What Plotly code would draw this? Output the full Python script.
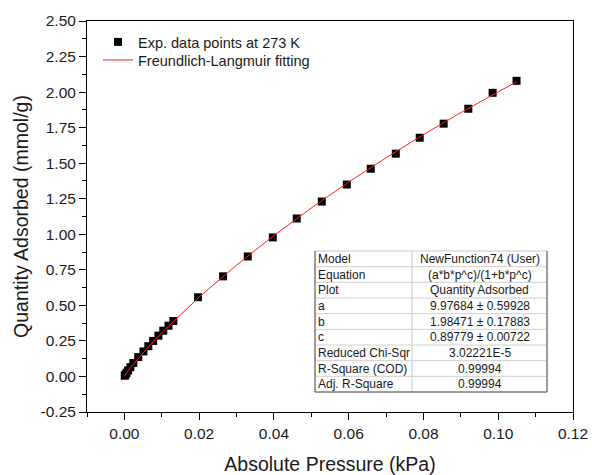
import plotly.graph_objects as go

# ---- data ----
pressure = [0.0001, 0.0003, 0.0006, 0.0010, 0.0016, 0.0024, 0.0037, 0.0051, 0.0064,
            0.0077, 0.0091, 0.0104, 0.0118, 0.0131, 0.0197, 0.0264, 0.0330, 0.0397,
            0.0461, 0.0528, 0.0595, 0.0659, 0.0726, 0.0790, 0.0854, 0.0920, 0.0985, 0.1049]
quantity = [0.005, 0.014, 0.026, 0.042, 0.065, 0.095, 0.136, 0.176, 0.213,
            0.250, 0.287, 0.322, 0.357, 0.390, 0.557, 0.704, 0.844, 0.978,
            1.111, 1.230, 1.350, 1.461, 1.567, 1.679, 1.778, 1.883, 1.995, 2.079]

fit_p = [0.0, 0.0005, 0.001, 0.002, 0.004, 0.007, 0.010, 0.015, 0.020, 0.030, 0.040,
         0.050, 0.060, 0.070, 0.080, 0.090, 0.100, 0.105]
fit_q = [0.0, 0.022, 0.040, 0.074, 0.137, 0.225, 0.308, 0.436, 0.558, 0.783, 0.991,
         1.185, 1.367, 1.538, 1.701, 1.856, 2.003, 2.074]

y_tickvals = [-0.25, 0.0, 0.25, 0.5, 0.75, 1.0, 1.25, 1.5, 1.75, 2.0, 2.25, 2.5]
y_ticktext = ["-0.25", "0.00", "0.25", "0.50", "0.75", "1.00", "1.25", "1.50",
              "1.75", "2.00", "2.25", "2.50"]
x_tickvals = [0.0, 0.02, 0.04, 0.06, 0.08, 0.10, 0.12]
x_ticktext = ["0.00", "0.02", "0.04", "0.06", "0.08", "0.10", "0.12"]

table_labels = ["Model", "Equation", "Plot", "a", "b", "c",
                "Reduced Chi-Sqr", "R-Square (COD)", "Adj. R-Square"]
table_values = ["NewFunction74 (User)", "(a*b*p^c)/(1+b*p^c)", "Quantity Adsorbed",
                "9.97684 ± 0.59928", "1.98471 ± 0.17883", "0.89779 ± 0.00722",
                "3.02221E-5", "0.99994", "0.99994"]

series_names = ["Exp. data points at 273 K", "Freundlich-Langmuir fitting"]

# ---- layout geometry (pixels) ----
W, H = 592, 475
ML, MR, MT, MB = 87, 19, 21, 63
PL, PR, PT, PB = ML, W - MR, MT, H - MB

def px(xp):
    return (xp - PL) / (PR - PL)

def py(yp):
    return (PB - yp) / (PB - PT)

FONT = "Arial, Liberation Sans, sans-serif"

fig = go.Figure()
fig.add_trace(go.Scatter(x=pressure, y=quantity, mode="markers", name=series_names[0],
                         legend="legend",
                         marker=dict(symbol="square", size=8, color="black",
                                     line=dict(width=0))))
fig.add_trace(go.Scatter(x=fit_p, y=fit_q, mode="lines", name=series_names[1],
                         legend="legend2",
                         line=dict(color="#ff2020", width=1)))

# ---- table ----
t_left, t_div, t_right, t_top, t_bot = 315, 412, 547, 251, 392
n = len(table_labels)
rh = (t_bot - t_top) / n
shapes = []
shapes.append(dict(type="rect", xref="paper", yref="paper", x0=px(t_left), x1=px(t_right),
                   y0=py(t_bot), y1=py(t_top), fillcolor="white",
                   line=dict(color="#c8c8c8", width=1), layer="above"))
for i in range(1, n):
    yy = t_top + i * rh
    shapes.append(dict(type="line", xref="paper", yref="paper", x0=px(t_left), x1=px(t_right),
                       y0=py(yy), y1=py(yy), line=dict(color="#d0d0d0", width=1), layer="above"))
shapes.append(dict(type="line", xref="paper", yref="paper", x0=px(t_div), x1=px(t_div),
                   y0=py(t_bot), y1=py(t_top), line=dict(color="#c8c8c8", width=1), layer="above"))
shapes.append(dict(type="line", xref="paper", yref="paper", x0=px(t_left), x1=px(t_left),
                   y0=py(t_bot), y1=py(t_top), line=dict(color="#555555", width=1), layer="above"))
shapes.append(dict(type="line", xref="paper", yref="paper", x0=px(t_left), x1=px(t_right),
                   y0=py(t_bot), y1=py(t_bot), line=dict(color="#555555", width=1), layer="above"))
shapes.append(dict(type="line", xref="paper", yref="paper", x0=px(t_right), x1=px(t_right),
                   y0=py(t_bot), y1=py(t_top), line=dict(color="#555555", width=1), layer="above"))

annotations = []
for i, (lab, val) in enumerate(zip(table_labels, table_values)):
    yc = t_top + (i + 0.5) * rh
    annotations.append(dict(xref="paper", yref="paper", x=px(t_left + 1), y=py(yc),
                            text=lab, showarrow=False, xanchor="left", yanchor="middle",
                            font=dict(family=FONT, size=12, color="#1a1a1a")))
    annotations.append(dict(xref="paper", yref="paper", x=px((t_div + t_right) / 2), y=py(yc),
                            text=val, showarrow=False, xanchor="center", yanchor="middle",
                            font=dict(family=FONT, size=12, color="#1a1a1a")))

axis_common = dict(showline=True, linecolor="black", linewidth=1, mirror=True,
                   ticks="outside", ticklen=7, tickwidth=1, tickcolor="black",
                   showgrid=False, zeroline=False, automargin=False,
                   tickfont=dict(family=FONT, size=15.5, color="#1a1a1a"))

legend_common = dict(xanchor="left", yanchor="top", bgcolor="rgba(0,0,0,0)", borderwidth=0,
                     font=dict(family=FONT, size=14.5, color="#1a1a1a"),
                     tracegroupgap=0, itemwidth=30)

fig.update_layout(
    width=W, height=H,
    margin=dict(l=ML, r=MR, t=MT, b=MB, pad=0, autoexpand=False),
    paper_bgcolor="white", plot_bgcolor="white",
    font=dict(family=FONT, color="black"),
    xaxis=dict(range=[-0.01, 0.12], tickvals=x_tickvals, ticktext=x_ticktext,
               minor=dict(ticks="outside", ticklen=4, dtick=0.01, tick0=0, tickcolor="black"),
               title=dict(text="Absolute Pressure (kPa)", font=dict(family=FONT, size=19.5, color="#1a1a1a"),
                          standoff=16),
               **axis_common),
    yaxis=dict(range=[-0.25, 2.5], tickvals=y_tickvals, ticktext=y_ticktext,
               minor=dict(ticks="outside", ticklen=4, dtick=0.125, tick0=0, tickcolor="black"),
               title=dict(text="Quantity Adsorbed (mmol/g)", font=dict(family=FONT, size=19.5, color="#1a1a1a"),
                          standoff=6),
               **axis_common),
    legend=dict(x=px(98), y=py(26), **legend_common),
    legend2=dict(x=px(98), y=py(44), **legend_common),
    shapes=shapes,
    annotations=annotations,
    showlegend=True,
)

fig.write_html("out.html")
